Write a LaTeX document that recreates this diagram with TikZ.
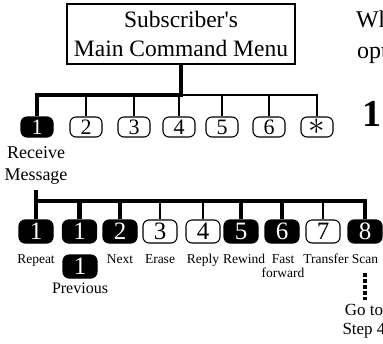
\documentclass[tikz,border=0pt]{standalone}
\usepackage{fontspec}
\usepackage{graphicx}
\setmainfont{Liberation Serif}
\tikzset{
  key/.style={draw, line width=1.1pt, rounded corners=6pt, inner sep=0pt,
    minimum width=32pt, minimum height=20pt, font=\fontsize{22}{22}\selectfont},
  bigkey/.style={key, minimum width=34pt, minimum height=23pt,
    font=\fontsize{25}{25}\selectfont},
  blackkey/.style={fill=black, text=white},
  thickline/.style={line width=4.5pt},
  thinline/.style={line width=1.1pt},
  dotline/.style={line width=3.5pt, dash pattern=on 3.5pt off 2.4pt},
  lbl/.style={inner sep=0pt, align=center, font=\fontsize{13.5}{14}\selectfont},
}

\begin{document}
\begin{tikzpicture}[x=1pt,y=-1pt]
      \clip (0,0) rectangle (383,343);
      \useasboundingbox (0,0) rectangle (383,343);

      % Draw the menu box
      \node[draw, thinline, minimum width=228pt, minimum height=60pt, inner sep=0pt,
        align=center, font=\fontsize{23.5}{29.5}\selectfont] (menu) at (181,34)
        {Subscriber\textquotesingle s\\Main Command Menu};

      % Text beside the menu
      \node[anchor=base west, inner sep=0pt, font=\fontsize{24}{24}\selectfont] (wh) at (356,27) {Wh};
      \node[anchor=base west, inner sep=0pt, font=\fontsize{24}{24}\selectfont] (opti) at (357,58) {opti};
      \node[anchor=base west, inner sep=0pt, font=\fontsize{38}{38}\selectfont\bfseries] (stepno) at (362,126) {1};

      % Main menu keys
      \node[key, blackkey] (k1) at (37,127) {1};
      \node[key] (k2) at (86,127) {2};
      \node[key] (k3) at (134,127) {3};
      \node[key] (k4) at (179,127) {4};
      \node[key] (k5) at (222,127) {5};
      \node[key] (k6) at (269,127) {6};
      \node[key] (kstar) at (317,127) {\scalebox{1.6}{$\ast$}};

      % Connect the main menu keys
      \coordinate (topbar) at (180,95);
      \draw[thinline] (topbar) -- (topbar -| kstar.north) -- (kstar.north);
      \draw[thinline] (topbar -| k2.north) -- (k2.north);
      \draw[thinline] (topbar -| k3.north) -- (k3.north);
      \draw[thinline] (topbar -| k4.north) -- (k4.north);
      \draw[thinline] (topbar -| k5.north) -- (k5.north);
      \draw[thinline] (topbar -| k6.north) -- (k6.north);
      \draw[thickline] (menu.south) -- (menu.south |- topbar) -| (k1.north);

      \node[lbl, anchor=north, font=\fontsize{18}{22}\selectfont] (recv) at (36,146) {Receive\\Message};

      % Receive message keys
      \node[bigkey, blackkey] (b1) at (36,231.5) {1};
      \node[bigkey, blackkey] (b2) at (79.5,231.5) {1};
      \node[bigkey, blackkey] (b3) at (120,231.5) {2};
      \node[bigkey] (b4) at (160,231.5) {3};
      \node[bigkey] (b5) at (203,231.5) {4};
      \node[bigkey, blackkey] (b6) at (241,231.5) {5};
      \node[bigkey, blackkey] (b7) at (282,231.5) {6};
      \node[bigkey] (b8) at (323,231.5) {7};
      \node[bigkey, blackkey] (b9) at (365,231.5) {8};
      \node[bigkey, blackkey] (bprev) at (80,266.5) {1};

      % Connect the receive message keys
      \coordinate (botbar) at (36,201);
      \draw[thinline] (botbar -| b4.north) -- (b4.north);
      \draw[thinline] (botbar -| b5.north) -- (b5.north);
      \draw[thinline] (botbar -| b8.north) -- (b8.north);
      \draw[thickline, shorten <=6pt] (recv.south) -- (b1.north);
      \draw[thickline] (botbar) -- (botbar -| b9.north) -- (b9.north);
      \draw[thickline] (botbar -| b2.north) -- (b2.north);
      \draw[thickline] (botbar -| b3.north) -- (b3.north);
      \draw[thickline] (botbar -| b6.north) -- (b6.north);
      \draw[thickline] (botbar -| b7.north) -- (b7.north);

      % Key labels
      \node[lbl, anchor=base] (lrepeat) at (36,263) {Repeat};
      \node[lbl, anchor=base] (lnext) at (120,263) {Next};
      \node[lbl, anchor=base] (lerase) at (160,263) {Erase};
      \node[lbl, anchor=base] (lreply) at (203,263) {Reply};
      \node[lbl, anchor=base] (lrewind) at (244,263) {Rewind};
      \node[lbl, anchor=north] (lfast) at (283,254) {Fast\\forward};
      \node[lbl, anchor=base] (ltransfer) at (326,263) {Transfer};
      \node[lbl, anchor=base] (lscan) at (365,263) {Scan};
      \node[lbl, anchor=base, font=\fontsize{16}{16}\selectfont] (lprev) at (80,293) {Previous};

      % Go to step 4
      \node[lbl, anchor=north, font=\fontsize{17}{19.5}\selectfont] (goto) at (364,304) {Go to\\Step 4};
      \draw[dotline, shorten <=10pt, shorten >=4pt] (lscan.south) -- (lscan.south |- goto.north);
    \end{tikzpicture}
\end{document}
